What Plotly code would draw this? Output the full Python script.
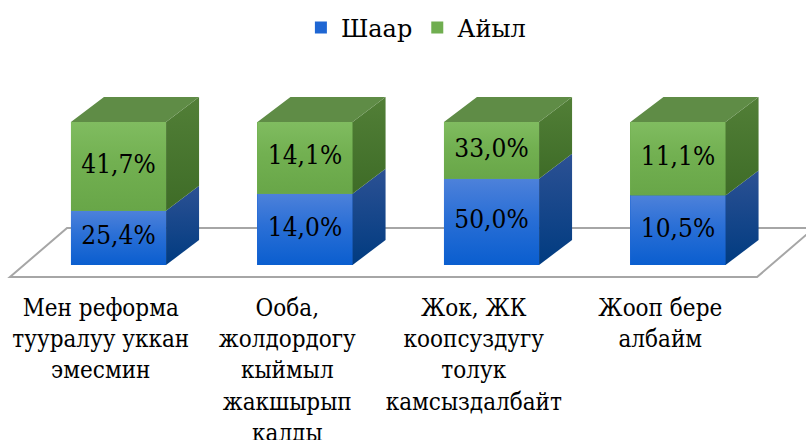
import plotly.graph_objects as go

# ---- data ----
categories = [
    "Мен реформа<br>тууралуу уккан<br>эмесмин",
    "Ооба,<br>жолдордогу<br>кыймыл<br>жакшырып<br>калды",
    "Жок, ЖК<br>коопсуздугу<br>толук<br>камсыздалбайт",
    "Жооп бере<br>албайм",
]
city = [25.4, 14.0, 50.0, 10.5]      # Шаар
village = [41.7, 14.1, 33.0, 11.1]   # Айыл
series_names = ["Шаар", "Айыл"]

# ---- style ----
FONT = "DejaVu Serif"
FONT_C = "DejaVu Serif Condensed, DejaVu Serif"
legend_cols = ["#1e66d3", "#70ae50"]
front_grad = [("#0a5ecf", "#2a6fd6", "#4d81da"), ("#68a648", "#72b051", "#80bc60")]
side_grad = [("#003b80", "#2c5194"), ("#3e6c27", "#527f37")]
top_col = "#5f8c46"
BAR_W = 0.51
DX, DY = 0.177, 17.5   # 3D depth in axis units

def fmt(v):
    return f"{v:.1f}%".replace(".", ",")

n = len(categories)
xs = list(range(n))
# normalised stack (100% stacked)
norm_city = [c / (c + v) * 100 for c, v in zip(city, village)]
lows = [[0.0] * n, norm_city]
highs = [norm_city, [100.0] * n]

fig = go.Figure()
# base bars (100% stacked) – also provide the legend
for name, vals, col in [(series_names[0], city, legend_cols[0]), (series_names[1], village, legend_cols[1])]:
    fig.add_trace(go.Bar(
        x=xs, y=vals, name=name, width=BAR_W,
        marker=dict(color=col, line=dict(width=0)),
        hoverinfo="skip",
    ))

# 3D faces with gradients
for s in range(2):
    bot, mid, top = front_grad[s]
    sb, st = side_grad[s]
    for i in range(n):
        y0, y1 = lows[s][i], highs[s][i]
        xl, xr = xs[i] - BAR_W / 2, xs[i] + BAR_W / 2
        # front
        fig.add_trace(go.Scatter(
            x=[xl, xr, xr, xl, xl], y=[y0, y0, y1, y1, y0], mode="lines",
            fill="toself", line=dict(width=0, color=mid),
            fillgradient=dict(type="vertical", start=y0, stop=y1,
                              colorscale=[[0, bot], [0.55, mid], [1, top]]),
            showlegend=False, hoverinfo="skip"))
        # side
        fig.add_trace(go.Scatter(
            x=[xr, xr + DX, xr + DX, xr, xr], y=[y0, y0 + DY, y1 + DY, y1, y0], mode="lines",
            fill="toself", line=dict(width=0, color=sb),
            fillgradient=dict(type="vertical", start=y0, stop=y1 + DY,
                              colorscale=[[0, sb], [1, st]]),
            showlegend=False, hoverinfo="skip"))

# top faces
tx, ty = [], []
for i in range(n):
    xl, xr = xs[i] - BAR_W / 2, xs[i] + BAR_W / 2
    tx += [xl, xl + DX, xr + DX, xr, xl, None]
    ty += [100, 100 + DY, 100 + DY, 100, 100, None]
fig.add_trace(go.Scatter(x=tx, y=ty, mode="lines", fill="toself", fillcolor=top_col,
                         line=dict(width=0, color=top_col), showlegend=False, hoverinfo="skip"))

# value labels
for s, vals in enumerate([city, village]):
    fig.add_trace(go.Scatter(
        x=xs, y=[(lo + hi) / 2 for lo, hi in zip(lows[s], highs[s])],
        mode="text", text=[fmt(v) for v in vals],
        textfont=dict(family=FONT_C, size=26, color="black"),
        showlegend=False, hoverinfo="skip"))

# floor (decorative)
fy0, fy1 = -8.4, 25.9
fx0 = -0.582
fx1 = n - 1 + 0.424
fdx = 0.306
floor_path = (f"M {fx0},{fy0} L {fx1},{fy0} L {fx1 + fdx},{fy1} "
              f"L {fx0 + fdx},{fy1} Z")
fig.add_shape(type="path", path=floor_path, xref="x", yref="y",
              line=dict(color="#a6a6a6", width=2), fillcolor="white", layer="below")

fig.update_layout(
    barmode="stack", barnorm="percent",
    width=806, height=440,
    margin=dict(l=0, r=0, t=0, b=160, pad=0, autoexpand=False),
    paper_bgcolor="white", plot_bgcolor="white",
    font=dict(family=FONT, size=22, color="black"),
    showlegend=True,
    legend=dict(orientation="h", x=0.516, xanchor="center", y=0.9, yanchor="middle",
                font=dict(family=FONT, size=24, color="black"), traceorder="normal",
                itemwidth=30),
    xaxis=dict(range=[-0.6354, 3.6863], tickmode="array", automargin=False,
               tickvals=[x - 0.095 for x in xs], ticktext=categories,
               showgrid=False, zeroline=False, showline=False, ticks="",
               ticklabelstandoff=11,
               tickfont=dict(family=FONT_C, size=24, color="black"), fixedrange=True),
    yaxis=dict(range=[-10.49, 185.31], visible=False, showgrid=False, zeroline=False,
               automargin=False, fixedrange=True),
)

fig.write_html("out.html", config={"displayModeBar": False},
               post_script="document.body.style.margin='0';")
